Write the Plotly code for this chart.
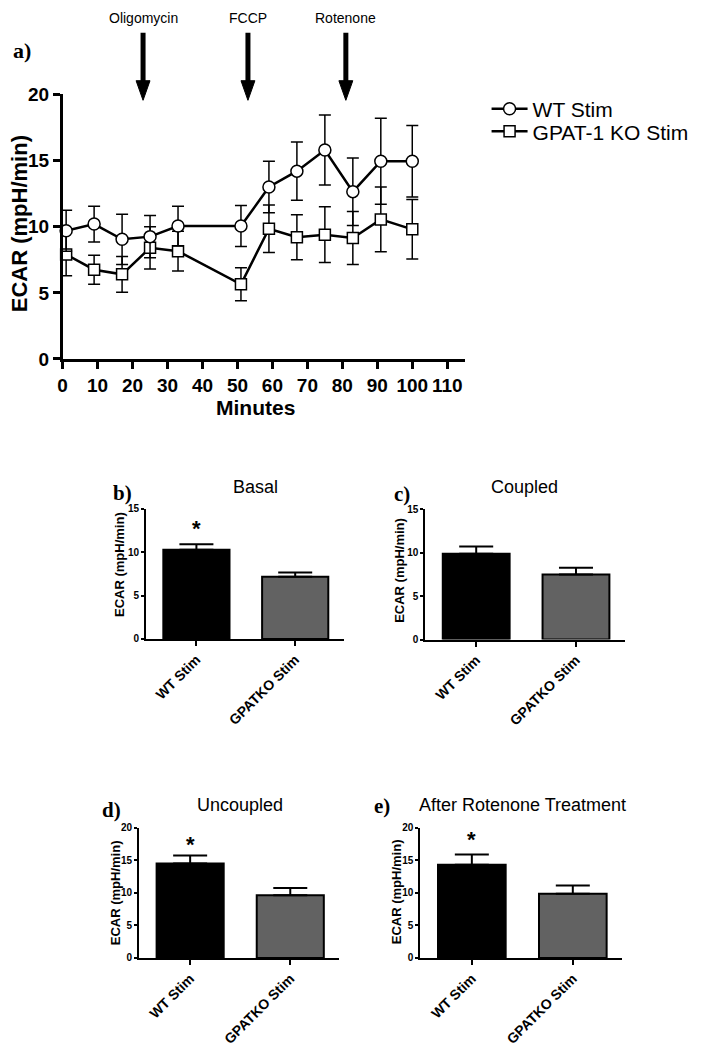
import plotly.graph_objects as go

# The page body has an 8 px margin; reference pixel positions are mapped into the figure.
OFF = 8
W, H = 703 - OFF, 1050 - OFF


def fx(x):
    return (x - OFF) / W


def fy(y):
    return 1 - (y - OFF) / H


# ---------------- Panel a data ----------------
minutes = [1, 9, 17, 25, 33, 51, 59, 67, 75, 83, 91, 100]
ecar_wt = [9.7, 10.2, 9.05, 9.25, 10.05, 10.05, 13.0, 14.2, 15.8, 12.65, 14.95, 14.95]
err_wt = [1.55, 1.35, 1.9, 1.6, 1.5, 1.55, 1.95, 2.2, 2.65, 2.55, 3.25, 2.7]
ecar_ko = [7.9, 6.75, 6.4, 8.4, 8.15, 5.65, 9.85, 9.2, 9.4, 9.15, 10.55, 9.8]
err_ko = [1.6, 1.1, 1.35, 1.6, 1.5, 1.25, 1.8, 1.7, 2.1, 2.0, 2.45, 2.25]
x_ticks = [0, 10, 20, 30, 40, 50, 60, 70, 80, 90, 100, 110]
y_ticks_a = [0, 5, 10, 15, 20]
injection_times = [23, 53, 81]
injection_labels = ["Oligomycin", "FCCP", "Rotenone"]

# ---------------- Bar panels data ----------------
groups = ["WT Stim", "GPATKO Stim"]
basal = [10.28, 7.16]
basal_err = [0.65, 0.5]
coupled = [9.88, 7.47]
coupled_err = [0.82, 0.8]
uncoupled = [14.48, 9.62]
uncoupled_err = [1.25, 1.1]
rotenone = [14.3, 9.87]
rotenone_err = [1.58, 1.25]
star_y = {"b": 12.7, "d": 17.4, "e": 18.2}

SANS = "Liberation Sans"
SERIF = "Liberation Serif"
BAR_COLORS = ["#000000", "#626262"]

fig = go.Figure()

# Panel a traces
fig.add_trace(go.Scatter(
    x=minutes, y=ecar_ko, name="GPAT-1 KO Stim", mode="lines+markers",
    line=dict(color="black", width=2.5),
    marker=dict(symbol="square", size=11, color="white", line=dict(color="black", width=1.5)),
    error_y=dict(type="data", array=err_ko, color="black", thickness=1.5, width=6),
    cliponaxis=False, legend="legend2", xaxis="x", yaxis="y"))
fig.add_trace(go.Scatter(
    x=minutes, y=ecar_wt, name="WT Stim", mode="lines+markers",
    line=dict(color="black", width=2.5),
    marker=dict(symbol="circle", size=12, color="white", line=dict(color="black", width=1.5)),
    error_y=dict(type="data", array=err_wt, color="black", thickness=1.5, width=6),
    cliponaxis=False, legend="legend", xaxis="x", yaxis="y"))

# Bar panels
panels = [
    ("b", "x2", "y2", basal, basal_err, "Basal", [0, 5, 10, 15], 15),
    ("c", "x3", "y3", coupled, coupled_err, "Coupled", [0, 5, 10, 15], 15),
    ("d", "x4", "y4", uncoupled, uncoupled_err, "Uncoupled", [0, 5, 10, 15, 20], 20),
    ("e", "x5", "y5", rotenone, rotenone_err, "After Rotenone Treatment", [0, 5, 10, 15, 20], 20),
]
for key, xa, ya, vals, errs, title, yt, ymax in panels:
    fig.add_trace(go.Bar(
        x=groups, y=vals, width=0.67, showlegend=False,
        marker=dict(color=BAR_COLORS, line=dict(color="black", width=2)),
        error_y=dict(type="data", symmetric=False, array=errs, arrayminus=[0, 0],
                     color="black", thickness=2, width=17),
        xaxis=xa, yaxis=ya))

layout = dict(
    width=W, height=H, margin=dict(l=0, r=0, t=0, b=0),
    paper_bgcolor="white", plot_bgcolor="white",
    font=dict(family=SANS, color="black"),
    showlegend=True,
)

# Panel a axes
layout["xaxis"] = dict(
    domain=[fx(58), fx(463)], range=[0, 115], tickvals=x_ticks,
    showline=True, linewidth=2.5, linecolor="black", ticks="outside", ticklen=7, tickwidth=2.5,
    tickcolor="black", showgrid=False, zeroline=False,
    tickfont=dict(family=SANS, size=19, color="black", weight="bold"), anchor="y")
layout["yaxis"] = dict(
    domain=[fy(356), fy(86)], range=[0, 20], tickvals=y_ticks_a,
    showline=True, linewidth=2.5, linecolor="black", ticks="outside", ticklen=7, tickwidth=2.5,
    tickcolor="black", showgrid=False, zeroline=False,
    tickfont=dict(family=SANS, size=19, color="black", weight="bold"), anchor="x")

bar_dom = {
    "b": ([142, 341], [641.7, 509]),
    "c": ([423.3, 624.3], [642.3, 509.3]),
    "d": ([135, 336.7], [967.3, 834.3]),
    "e": ([418.3, 621.7], [967.3, 834.3]),
}
for key, xa, ya, vals, errs, title, yt, ymax in panels:
    xd, yd = bar_dom[key]
    xn = "xaxis" + xa[1:]
    yn = "yaxis" + ya[1:]
    layout[xn] = dict(
        domain=[fx(xd[0]), fx(xd[1])], range=[-0.51, 1.49], type="category",
        showline=True, linewidth=2, linecolor="black", ticks="outside", ticklen=5, tickwidth=2,
        tickcolor="black", showgrid=False, zeroline=False, tickangle=-45,
        tickfont=dict(family=SANS, size=14, color="black", weight="bold"), anchor=ya)
    layout[yn] = dict(
        domain=[fy(yd[0]), fy(yd[1])], range=[0, ymax], tickvals=yt,
        showline=True, linewidth=2, linecolor="black", ticks="outside", ticklen=3, tickwidth=1.5,
        tickcolor="black", showgrid=False, zeroline=False,
        tickfont=dict(family=SANS, size=10, color="black", weight="bold"), anchor=xa)

layout["legend"] = dict(x=fx(485), y=fy(101), xanchor="left", yanchor="middle", itemwidth=36,
                        bgcolor="rgba(0,0,0,0)", font=dict(family=SANS, size=21, color="black"))
layout["legend2"] = dict(x=fx(485), y=fy(124), xanchor="left", yanchor="middle", itemwidth=36,
                         bgcolor="rgba(0,0,0,0)", font=dict(family=SANS, size=21, color="black"))

annotations = []
shapes = []


def note(x, y, text, size, family=SANS, bold=False, angle=0, **kw):
    f = dict(family=family, size=size, color="black")
    if bold:
        f["weight"] = "bold"
    d = dict(x=x, y=y, xref="paper", yref="paper", text=text, showarrow=False,
             xanchor="center", yanchor="middle", textangle=angle, font=f, borderpad=0)
    d.update(kw)
    annotations.append(d)


# Injection arrows and labels
for t, lab in zip(injection_times, injection_labels):
    shapes.append(dict(type="line", xref="x", yref="paper", x0=t, x1=t, y0=fy(23), y1=fy(74),
                       line=dict(color="black", width=5)))
    hw = 7 / 3.52
    shapes.append(dict(type="path", xref="x", yref="paper",
                       path=f"M {t - hw},{fy(72)} L {t + hw},{fy(72)} L {t},{fy(92)} Z",
                       fillcolor="black", line=dict(color="black", width=1)))
    note(t, fy(8), lab, 14, xref="x")

# Panel a titles
note(fx(14.5), fy(218), "ECAR (mpH/min)", 22, bold=True, angle=-90)
note(fx(252), fy(406), "Minutes", 21, bold=True)
note(fx(17), fy(41), "a)", 22, family=SERIF, bold=True)

label_pos = {"b": (118, 493), "c": (400, 494), "d": (107, 816), "e": (380, 812)}
title_pos = {"b": (252, 487), "c": (523, 487), "d": (237, 811), "e": (521, 811)}
ytitle_pos = {"b": (116, 566), "c": (397, 572), "d": (111, 901), "e": (394, 900)}
for key, xa, ya, vals, errs, title, yt, ymax in panels:
    lx, ly = label_pos[key]
    note(fx(lx), fy(ly), key + ")", 21, family=SERIF, bold=True)
    tx, ty = title_pos[key]
    note(fx(tx), fy(ty), title, 18)
    yx, yy = ytitle_pos[key]
    note(fx(yx), fy(yy), "ECAR (mpH/min)", 13, bold=True, angle=-90)
    if key in star_y:
        note(groups[0], star_y[key], "*", 22, bold=True, xref=xa, yref=ya)

layout["annotations"] = annotations
layout["shapes"] = shapes
fig.update_layout(**layout)

fig.write_html("out.html")
